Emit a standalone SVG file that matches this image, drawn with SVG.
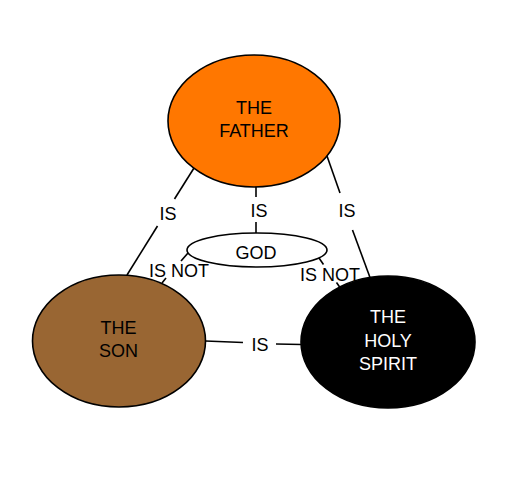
<svg xmlns="http://www.w3.org/2000/svg" width="520" height="480" viewBox="0 0 520 480">
  <style>
    .node { stroke: #000; stroke-width: 1.6; }
    .conn line { stroke: #000; stroke-width: 1.6; fill: none; }
    text { font-family: "Liberation Sans", Arial, Helvetica, sans-serif; font-size: 18px; text-anchor: middle; }
    .dark { fill: #000; }
    .light { fill: #fff; }
  </style>
  <rect x="0" y="0" width="520" height="480" fill="#fff"/>
  <g id="connectors" class="conn">
    <g id="father-son">
      <line x1="194" y1="168" x2="174.5" y2="199"/>
      <line x1="157.5" y1="226" x2="127" y2="275"/>
      <text x="168" y="220">IS</text>
    </g>
    <g id="father-god">
      <line x1="256" y1="187" x2="256" y2="197"/>
      <line x1="256" y1="222" x2="256" y2="233"/>
      <text x="259" y="217">IS</text>
    </g>
    <g id="father-spirit">
      <line x1="327" y1="156" x2="340" y2="193"/>
      <line x1="352.5" y1="230" x2="370" y2="277.5"/>
      <text x="347" y="217">IS</text>
    </g>
    <g id="god-son">
      <line x1="188" y1="253" x2="181" y2="261"/>
      <line x1="166" y1="278" x2="162" y2="283"/>
      <text x="179" y="277">IS NOT</text>
    </g>
    <g id="god-spirit">
      <line x1="319" y1="258" x2="323.5" y2="264.5"/>
      <line x1="336.5" y1="282.5" x2="340" y2="287.5"/>
      <text x="330" y="280.5">IS NOT</text>
    </g>
    <g id="son-spirit">
      <line x1="205.5" y1="341" x2="243" y2="342.5"/>
      <line x1="276" y1="344" x2="301.5" y2="344.5"/>
      <text x="260" y="351">IS</text>
    </g>
  </g>
  <g id="father">
    <ellipse class="node" cx="254" cy="121" rx="86" ry="66" fill="#ff7700"/>
    <text class="dark" x="254" y="114">THE</text>
    <text class="dark" x="254" y="137">FATHER</text>
  </g>
  <g id="god">
    <ellipse class="node" cx="257" cy="250" rx="70" ry="17" fill="#fff"/>
    <text class="dark" x="256" y="258.5">GOD</text>
  </g>
  <g id="son">
    <ellipse class="node" cx="119" cy="341" rx="86.5" ry="66" fill="#996633"/>
    <text class="dark" x="118.5" y="334">THE</text>
    <text class="dark" x="118.5" y="357">SON</text>
  </g>
  <g id="holy-spirit">
    <ellipse class="node" cx="388" cy="342" rx="87" ry="66" fill="#000"/>
    <text class="light" x="388" y="323">THE</text>
    <text class="light" x="388" y="346.5">HOLY</text>
    <text class="light" x="388" y="370">SPIRIT</text>
  </g>
</svg>
